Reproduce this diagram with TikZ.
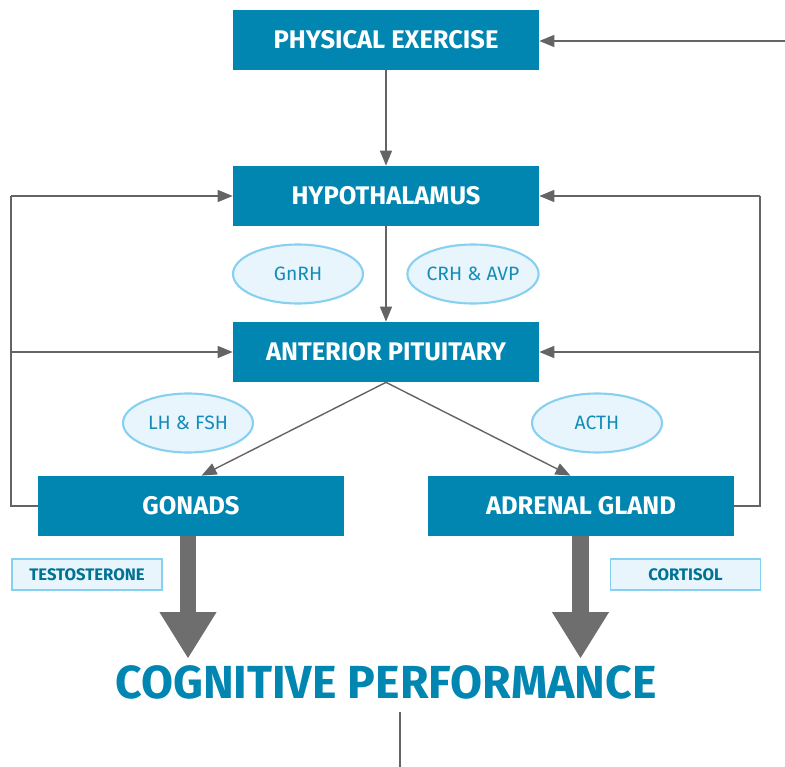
\documentclass[tikz,border=0pt]{standalone}
\usepackage{fontspec}
\setmainfont{Fira Sans}
\usetikzlibrary{arrows.meta,shapes.geometric,positioning}
\definecolor{boxblue}{RGB}{0,134,176}
\definecolor{ovalfill}{RGB}{232,245,252}
\definecolor{ovalline}{RGB}{135,208,240}
\definecolor{ovaltext}{RGB}{20,140,185}
\definecolor{linegray}{RGB}{100,100,100}
\definecolor{biggray}{RGB}{110,110,110}
\tikzset{
	organ/.style={rectangle,fill=boxblue,text=white,font=\bfseries\fontsize{14.5}{16}\selectfont,minimum width=6.12cm,minimum height=1.2cm,inner sep=0pt},
	hormone/.style={ellipse,draw=ovalline,fill=ovalfill,line width=1.2pt,text=ovaltext,font=\fontsize{11}{13}\selectfont,minimum width=2.6cm,minimum height=1.18cm,inner sep=0pt},
	product/.style={rectangle,draw=ovalline,fill=ovalfill,line width=1pt,text=boxblue!85!black,font=\bfseries\fontsize{9.5}{11}\selectfont,minimum width=3cm,minimum height=0.62cm,inner sep=0pt},
	arr/.style={draw=linegray,line width=0.8pt,-{Triangle[length=0.3cm,width=0.24cm]}},
	fb/.style={draw=linegray,line width=0.8pt},
	bigarr/.style={draw=biggray,line width=0.34cm,-{Triangle[length=0.92cm,width=1.14cm,line width=0.5pt]}}
}
\begin{document}
\begin{tikzpicture}[x=0.02cm,y=-0.02cm]
	\useasboundingbox (0,0) rectangle (785,767);
	\node[organ] (pe) at (386,40) {PHYSICAL EXERCISE};
	\node[organ] (hyp) at (386,196) {HYPOTHALAMUS};
	\node[organ] (ap) at (386,352) {ANTERIOR PITUITARY};
	\node[organ] (gon) at (191,506) {GONADS};
	\node[organ] (adr) at (581,506) {ADRENAL GLAND};
	\node[hormone] (gnrh) at (298,274) {GnRH};
	\node[hormone] (crh) at (473,274) {CRH \& AVP};
	\node[hormone] (lhfsh) at (188,423) {LH \& FSH};
	\node[hormone] (acth) at (597,423) {ACTH};
	\node[product] (testo) at (87,574.5) {TESTOSTERONE};
	\node[product] (cort) at (685.5,574.5) {CORTISOL};
	\node[anchor=base,text=boxblue,font=\bfseries\fontsize{26.4}{30}\selectfont,inner sep=0pt] (cog) at (386,698) {COGNITIVE PERFORMANCE};
	\coordinate (ein) at (785,41);
	\coordinate (lx) at (11,0);
	\coordinate (rx) at (760,0);
	\coordinate (gtip) at (188,658);
	\coordinate (atip) at (580.5,658);
	\coordinate (tailtop) at (400,712);
	\coordinate (tailend) at (400,767);
	\draw[arr] (ein) -- (ein -| pe.east);
	\draw[arr] (pe) -- (hyp);
	\draw[arr] (hyp) -- (ap);
	\draw[arr] (ap.south) -- ([xshift=6]gon.north);
	\draw[arr] (ap.south) -- ([xshift=-6]adr.north);
	\draw[fb] (gon.west) -| (lx |- hyp.west);
	\draw[arr] (lx |- hyp.west) -- (hyp.west);
	\draw[arr] (lx |- ap.west) -- (ap.west);
	\draw[fb] (adr.east) -| (rx |- hyp.east);
	\draw[arr] (rx |- hyp.east) -- (hyp.east);
	\draw[arr] (rx |- ap.east) -- (ap.east);
	\draw[bigarr] (gtip |- gon.south) -- (gtip);
	\draw[bigarr] (atip |- adr.south) -- (atip);
	\draw[fb] (tailtop) -- (tailend);
\end{tikzpicture}
\end{document}
